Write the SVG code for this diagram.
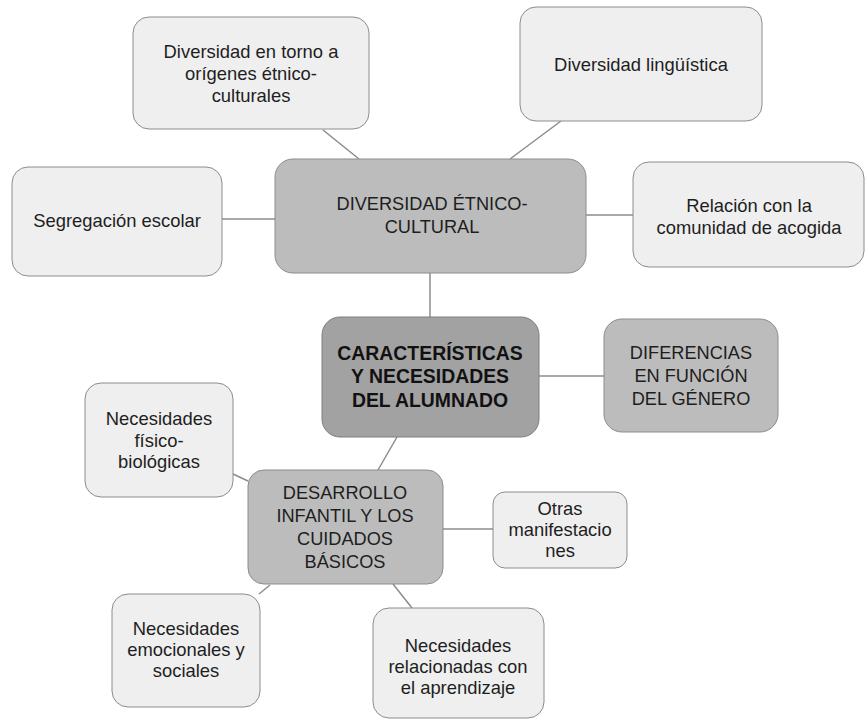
<svg xmlns="http://www.w3.org/2000/svg" width="866" height="720" viewBox="0 0 866 720">
  <style>
    .leaf rect { fill: #efefef; stroke: #8c8c8c; stroke-width: 1; }
    .mid rect { fill: #bcbcbc; stroke: #8c8c8c; stroke-width: 1; }
    .core rect { fill: #a2a2a2; stroke: #7f7f7f; stroke-width: 1; }
    text { font-family: "Liberation Sans", Arial, sans-serif; font-size: 18.4px; fill: #1e1e1e; text-anchor: middle; dominant-baseline: central; }
    .mid text { font-size: 18.2px; }
    .core text { font-weight: bold; font-size: 19.4px; fill: #111; }
    .links line { stroke: #8c8c8c; stroke-width: 1.5; }
  </style>
  <rect width="866" height="720" fill="#ffffff"/>

  <!-- connectors -->
  <g class="links">
    <line x1="323" y1="130" x2="359" y2="159"/>
    <line x1="561" y1="121" x2="510" y2="159"/>
    <line x1="222" y1="219" x2="275" y2="219"/>
    <line x1="586" y1="215" x2="633" y2="215"/>
    <line x1="430" y1="273" x2="430" y2="317"/>
    <line x1="539" y1="376" x2="604" y2="376"/>
    <line x1="397" y1="437" x2="378" y2="470"/>
    <line x1="233" y1="474" x2="248" y2="481"/>
    <line x1="443" y1="529" x2="493" y2="529"/>
    <line x1="270" y1="585" x2="259" y2="594"/>
    <line x1="393" y1="584" x2="412" y2="608"/>
  </g>

  <!-- ethnic-cultural branch -->
  <g id="diversidad-origenes" class="leaf">
    <rect x="133" y="17" width="236" height="112" rx="16"/>
    <text><tspan x="251" y="51">Diversidad en torno a</tspan><tspan x="251" y="73">orígenes étnico-</tspan><tspan x="251" y="95">culturales</tspan></text>
  </g>
  <g id="diversidad-linguistica" class="leaf">
    <rect x="520" y="7" width="242" height="114" rx="16"/>
    <text x="641" y="64">Diversidad lingüística</text>
  </g>
  <g id="segregacion" class="leaf">
    <rect x="12" y="167" width="210" height="109" rx="16"/>
    <text x="117" y="220">Segregación escolar</text>
  </g>
  <g id="relacion-comunidad" class="leaf">
    <rect x="633" y="162" width="231" height="105" rx="16"/>
    <text><tspan x="749" y="205">Relación con la</tspan><tspan x="749" y="227">comunidad de acogida</tspan></text>
  </g>
  <g id="diversidad-etnico-cultural" class="mid">
    <rect x="275" y="159" width="311" height="114" rx="18"/>
    <text><tspan x="432" y="204">DIVERSIDAD ÉTNICO-</tspan><tspan x="432" y="227">CULTURAL</tspan></text>
  </g>

  <!-- central topic -->
  <g id="caracteristicas" class="core">
    <rect x="322" y="317" width="217" height="120" rx="18"/>
    <text><tspan x="430" y="353">CARACTERÍSTICAS</tspan><tspan x="430" y="376">Y NECESIDADES</tspan><tspan x="430" y="400">DEL ALUMNADO</tspan></text>
  </g>
  <g id="diferencias-genero" class="mid">
    <rect x="604" y="319" width="174" height="113" rx="18"/>
    <text><tspan x="691" y="353">DIFERENCIAS</tspan><tspan x="691" y="376">EN FUNCIÓN</tspan><tspan x="691" y="399">DEL GÉNERO</tspan></text>
  </g>

  <!-- child development branch -->
  <g id="desarrollo-infantil" class="mid">
    <rect x="248" y="470" width="195" height="114" rx="16"/>
    <text><tspan x="345" y="493">DESARROLLO</tspan><tspan x="345" y="516">INFANTIL Y LOS</tspan><tspan x="345" y="539">CUIDADOS</tspan><tspan x="345" y="562">BÁSICOS</tspan></text>
  </g>
  <g id="necesidades-fisico" class="leaf">
    <rect x="85" y="383" width="148" height="114" rx="16"/>
    <text><tspan x="159" y="418">Necesidades</tspan><tspan x="159" y="440">físico-</tspan><tspan x="159" y="461">biológicas</tspan></text>
  </g>
  <g id="otras-manifestaciones" class="leaf">
    <rect x="493" y="492" width="134" height="76" rx="12"/>
    <text><tspan x="560" y="508">Otras</tspan><tspan x="560" y="529">manifestacio</tspan><tspan x="560" y="550">nes</tspan></text>
  </g>
  <g id="necesidades-emocionales" class="leaf">
    <rect x="112" y="594" width="148" height="113" rx="16"/>
    <text><tspan x="186" y="628">Necesidades</tspan><tspan x="186" y="649">emocionales y</tspan><tspan x="186" y="670">sociales</tspan></text>
  </g>
  <g id="necesidades-aprendizaje" class="leaf">
    <rect x="373" y="608" width="171" height="110" rx="16"/>
    <text><tspan x="458" y="645">Necesidades</tspan><tspan x="458" y="666">relacionadas con</tspan><tspan x="458" y="687">el aprendizaje</tspan></text>
  </g>
</svg>
